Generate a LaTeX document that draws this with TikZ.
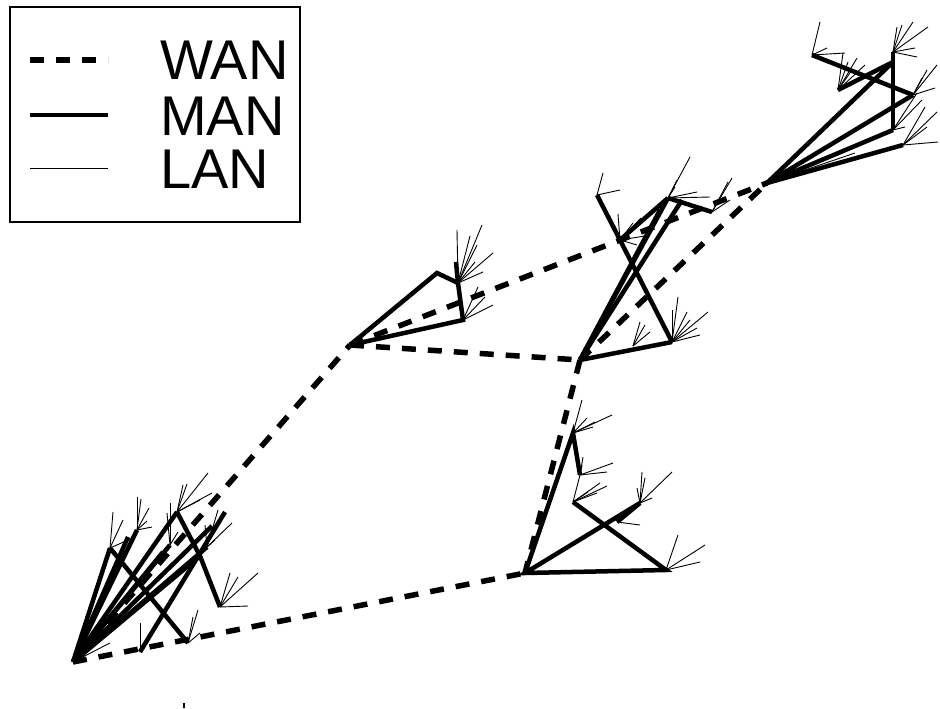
\documentclass[tikz,border=0pt]{standalone}
\usepackage{fontspec}
\setmainfont{Liberation Sans}
\begin{document}
\begin{tikzpicture}[x=1pt,y=-1pt,
  wan/.style={line width=5.5pt,dash pattern=on 14pt off 12pt},
  man/.style={line width=4.5pt},
  lan/.style={line width=0.9pt},
  legtext/.style={anchor=base west,inner sep=0pt,font=\fontsize{56}{60}\selectfont}]
\useasboundingbox (0,0) rectangle (940,709);

% ---- legend ----
\draw[line width=1.5pt] (10,7) rectangle (300,222);
\coordinate (lw1) at (30,60);  \coordinate (lw2) at (108,60);
\coordinate (lm1) at (30,115); \coordinate (lm2) at (108,115);
\coordinate (ll1) at (30,168); \coordinate (ll2) at (108,168);
\draw[wan] (lw1) -- (lw2);
\draw[man] (lm1) -- (lm2);
\draw[lan] (ll1) -- (ll2);
\node[legtext] (twan) at (160,80) {WAN};
\node[legtext] (tman) at (160,135) {MAN};
\node[legtext] (tlan) at (160,188) {LAN};

% ---- WAN hubs ----
\coordinate (A) at (73,662);
\coordinate (B) at (350,345);
\coordinate (C) at (580,360);
\coordinate (D) at (525,573);
\coordinate (E) at (767,183);

% ---- cluster A ----
\coordinate (a1) at (110,548);
\coordinate (a2) at (137,530);
\coordinate (a3) at (170,545);
\coordinate (a4) at (177,512);
\coordinate (a5) at (200,556);
\coordinate (a6) at (220,607);
\coordinate (a7) at (188,643);
\coordinate (a8) at (140,652);
\coordinate (a9) at (225,512);
\coordinate (a10) at (207,547);
\coordinate (a11) at (128,537);
\coordinate (a12) at (212,526);
\coordinate (a13) at (163,552);
\foreach \t in {a1,a2,a3,a4,a5,a10,a11,a12,a13} \draw[man] (A) -- (\t);
\draw[man] (a1) -- (a7);
\draw[man] (a4) -- (a5) -- (a6);
\draw[man] (a8) -- (a9);
\foreach \p in {(113,512),(135,537),(123,520)} \draw[lan] (a1) -- \p;
\foreach \p in {(137,497),(141,499),(149,508),(147,521),(152,527)} \draw[lan] (a2) -- \p;
\foreach \p in {(170,503),(167,513),(178,532)} \draw[lan] (a3) -- \p;
\foreach \p in {(183,485),(187,484),(208,473),(212,493),(200,500)} \draw[lan] (a4) -- \p;
\foreach \p in {(218,510),(232,523),(215,540),(205,525)} \draw[lan] (a10) -- \p;
\foreach \p in {(230,573),(238,577),(258,573),(248,606)} \draw[lan] (a6) -- \p;
\foreach \p in {(198,610),(193,617),(200,633)} \draw[lan] (a7) -- \p;
\draw[lan] (a8) -- (140,623);
\draw[lan] (A) -- (110,643);

% ---- cluster B ----
\coordinate (b1) at (437,273);
\coordinate (b2) at (458,283);
\coordinate (b3) at (463,320);
\coordinate (b4) at (456,262);
\draw[man] (B) -- (b1) -- (b2) -- (b3) -- (B);
\draw[man] (b4) -- (b2);
\foreach \p in {(457,230),(482,225),(477,245),(493,253),(483,272),(475,262),(470,236)} \draw[lan] (b2) -- \p;
\foreach \p in {(493,305),(478,287),(485,297)} \draw[lan] (b3) -- \p;

% ---- cluster C ----
\coordinate (c1) at (672,342);
\coordinate (c2) at (620,240);
\coordinate (c3) at (597,195);
\coordinate (c4) at (668,198);
\coordinate (c5) at (712,212);
\coordinate (c6) at (682,200);
\coordinate (c7) at (633,346);
\coordinate (c8) at (660,210);
\draw[man] (C) -- (c1);
\draw[man] (c3) -- (c2) -- (c1);
\draw[man] (C) -- (c4);
\draw[man] (C) -- (c6);
\draw[man] (C) -- (c8);
\draw[man] (c2) -- (c4);
\draw[man] (c4) -- (c5);
\foreach \p in {(603,173),(620,190)} \draw[lan] (c3) -- \p;
\foreach \p in {(618,214),(633,223),(641,218),(645,236),(637,245)} \draw[lan] (c2) -- \p;
\foreach \p in {(690,157),(697,192),(710,197),(675,187),(677,180)} \draw[lan] (c4) -- \p;
\foreach \p in {(732,178),(730,200),(728,182)} \draw[lan] (c5) -- \p;
\foreach \p in {(678,297),(672,310),(687,312),(708,312),(697,328),(700,335),(690,320)} \draw[lan] (c1) -- \p;
\foreach \p in {(645,325),(650,332),(640,322)} \draw[lan] (c7) -- \p;

% ---- cluster D ----
\coordinate (d1) at (573,433);
\coordinate (d2) at (580,475);
\coordinate (d3) at (573,502);
\coordinate (d4) at (640,503);
\coordinate (d5) at (666,570);
\coordinate (d6) at (617,522);
\draw[man] (D) -- (d1) -- (d2);
\draw[lan] (d2) -- (d3);
\draw[man] (d3) -- (d5) -- (D) -- (d4) -- (d6);
\foreach \p in {(582,400),(587,418),(595,422),(612,415),(593,427)} \draw[lan] (d1) -- \p;
\foreach \p in {(583,457),(613,463),(607,472),(582,465)} \draw[lan] (d2) -- \p;
\foreach \p in {(600,483),(607,486),(597,493),(588,492)} \draw[lan] (d3) -- \p;
\foreach \p in {(642,472),(672,472),(652,498),(637,488),(645,478)} \draw[lan] (d4) -- \p;
\draw[lan] (d6) -- (640,525);
\foreach \p in {(678,535),(705,545),(700,562)} \draw[lan] (d5) -- \p;

% ---- cluster E ----
\coordinate (e1) at (893,62);
\coordinate (e2) at (913,95);
\coordinate (e3) at (893,130);
\coordinate (e4) at (903,145);
\coordinate (e5) at (812,55);
\coordinate (e6) at (838,90);
\coordinate (e7) at (893,52);
\foreach \t in {e1,e2,e3,e4} \draw[man] (E) -- (\t);
\draw[man] (e5) -- (e2);
\draw[man] (e6) -- (e1);
\draw[man] (e7) -- (e3);
\foreach \p in {(820,22),(845,53),(827,48)} \draw[lan] (e5) -- \p;
\foreach \p in {(843,53),(848,62),(857,58),(865,65),(852,70)} \draw[lan] (e6) -- \p;
\foreach \p in {(897,27),(902,25),(913,22),(928,27),(915,48),(917,57)} \draw[lan] (e7) -- \p;
\foreach \p in {(937,65),(927,70),(922,78),(935,88)} \draw[lan] (e2) -- \p;
\foreach \p in {(917,93),(922,100),(905,127)} \draw[lan] (e3) -- \p;
\foreach \p in {(925,107),(937,112),(938,142),(927,127)} \draw[lan] (e4) -- \p;
\draw[lan] (E) -- (855,153);

% ---- WAN links ----
\draw[wan] (A) -- (B);
\draw[wan] (A) -- (D);
\draw[wan] (B) -- (C);
\draw[wan] (B) -- (E);
\draw[wan] (C) -- (E);
\draw[wan] (C) -- (D);

% small tick at the bottom
\coordinate (tk1) at (184,703);
\coordinate (tk2) at (184,708);
\draw[line width=1.2pt] (tk1) -- (tk2);
\end{tikzpicture}
\end{document}
